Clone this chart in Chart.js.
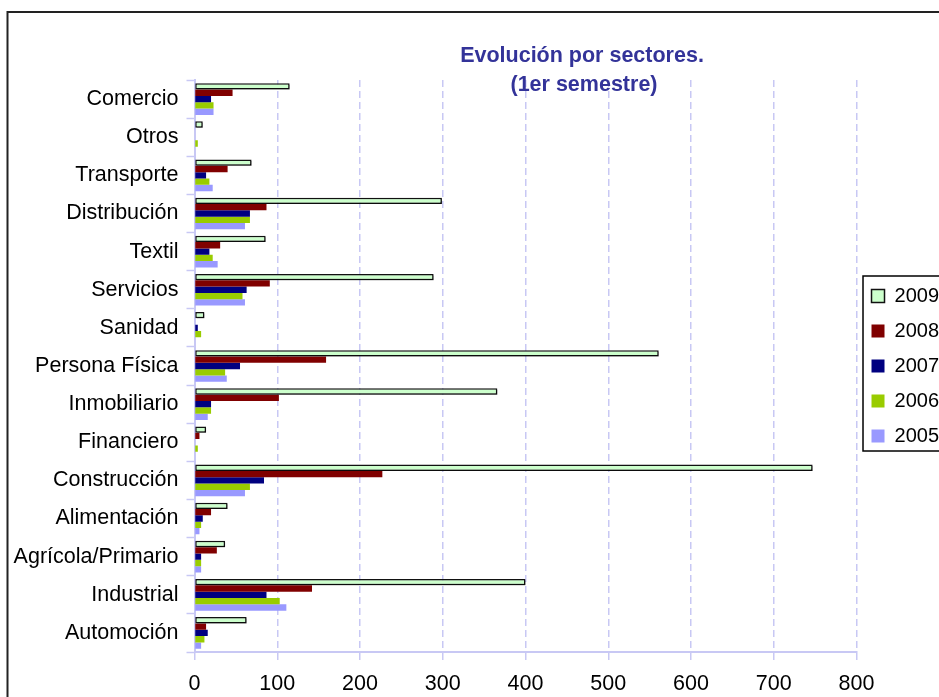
<!DOCTYPE html>
<html><head><meta charset="utf-8">
<script src="https://cdn.jsdelivr.net/npm/chart.js@4.4.0/dist/chart.umd.min.js"></script>
<style>
html,body{margin:0;padding:0;background:#fff;overflow:hidden;width:939px;height:697px;}
#wrap{position:absolute;left:0;top:0;width:949px;height:697px;}
</style></head><body>
<div id="wrap"><canvas id="c"></canvas></div>
<script>
const categories = ['Comercio','Otros','Transporte','Distribución','Textil','Servicios','Sanidad','Persona Física','Inmobiliario','Financiero','Construcción','Alimentación','Agrícola/Primario','Industrial','Automoción'];
const seriesNames = ['2009','2008','2007','2006','2005'];
const v2009 = [115, 10, 69, 299, 86, 289, 12, 561, 366, 14, 747, 40, 37, 400, 63];
const v2008 = [46, 0, 40, 87, 31, 91, 0, 159, 102, 6, 227, 20, 27, 142, 14];
const v2007 = [20, 0, 14, 67, 18, 63, 4, 55, 20, 0, 84, 10, 8, 87, 16];
const v2006 = [23, 4, 18, 67, 22, 58, 8, 37, 20, 4, 67, 8, 8, 103, 12];
const v2005 = [23, 0, 22, 61, 28, 61, 0, 39, 16, 0, 61, 6, 8, 111, 8];
const xTickValues = [0, 100, 200, 300, 400, 500, 600, 700, 800];
const titleLines = ['Evolución por sectores.', '(1er semestre)'];

const FONT = "'Liberation Sans', Arial, sans-serif";
const GRID = '#C8C8F4';

const framePlugin = {
  id: 'frame',
  beforeDraw(chart) {
    const ctx = chart.ctx;
    ctx.save();
    ctx.fillStyle = '#fff';
    ctx.fillRect(0, 0, chart.width, chart.height);
    ctx.strokeStyle = '#222';
    ctx.lineWidth = 2;
    ctx.strokeRect(7.5, 12, chart.width + 50, chart.height + 50);
    ctx.restore();
  },
  beforeDatasetDraw(chart, args) {
    if (args.index === 0) {
      const ctx = chart.ctx;
      ctx.save();
      ctx.shadowColor = 'rgba(0,0,0,0.35)';
      ctx.shadowOffsetX = 1.5;
      ctx.shadowOffsetY = 1.5;
      ctx.shadowBlur = 0;
    }
  },
  afterDatasetDraw(chart, args) {
    if (args.index === 0) chart.ctx.restore();
  },
  afterDraw(chart) {
    const ctx = chart.ctx;
    ctx.save();
    ctx.fillStyle = '#333399';
    ctx.font = "bold 21.5px " + FONT;
    ctx.textAlign = 'center';
    ctx.textBaseline = 'alphabetic';
    ctx.fillText(titleLines[0], 582, 61.5);
    ctx.fillText(titleLines[1], 584, 91);
    const lg = chart.legend;
    if (lg && lg.legendHitBoxes && lg.legendHitBoxes.length) {
      const hb = lg.legendHitBoxes;
      const first = hb[0], last = hb[hb.length - 1];
      const left = first.left - 8.5;
      const top = first.top + first.height / 2 - 20;
      const bottom = last.top + last.height / 2 + 15;
      ctx.strokeStyle = '#000';
      ctx.lineWidth = 1.5;
      ctx.strokeRect(left, top, 300, bottom - top);
    }
    ctx.restore();
  }
};

const datasets = [
  {label: seriesNames[0], data: v2009, backgroundColor: '#CCFFCC', borderColor: '#111', borderWidth: 1.5, borderSkipped: false},
  {label: seriesNames[1], data: v2008, backgroundColor: '#800000', borderWidth: 0},
  {label: seriesNames[2], data: v2007, backgroundColor: '#000080', borderWidth: 0},
  {label: seriesNames[3], data: v2006, backgroundColor: '#99CC00', borderWidth: 0},
  {label: seriesNames[4], data: v2005, backgroundColor: '#9999FF', borderWidth: 0}
];

new Chart(document.getElementById('c'), {
  type: 'bar',
  data: {labels: categories, datasets},
  plugins: [framePlugin],
  options: {
    indexAxis: 'y',
    responsive: true,
    maintainAspectRatio: false,
    animation: false,
    devicePixelRatio: 1,
    layout: {padding: {left: 8, top: 80, right: 0, bottom: 0}},
    datasets: {bar: {categoryPercentage: 0.83, barPercentage: 1.0}},
    plugins: {
      title: {display: false},
      tooltip: {enabled: false},
      legend: {
        position: 'right', align: 'center', fullSize: false,
        labels: {boxWidth: 13, boxHeight: 13, padding: 15, color: '#000', font: {family: FONT, size: 20}}
      }
    },
    scales: {
      x: {
        min: 0, max: 800,
        afterFit(s) { s.height = 45; },
        afterBuildTicks(s) { s.ticks = xTickValues.map(v => ({value: v})); },
        ticks: {stepSize: 100, padding: 11, color: '#000', font: {family: FONT, size: 21.5}, maxRotation: 0},
        grid: {
          color: (c) => (c.tick && c.tick.value === 0) ? 'rgba(0,0,0,0)' : GRID,
          lineWidth: 1.5, tickColor: GRID, tickLength: 8, tickWidth: 1.5, tickBorderDash: []
        },
        border: {color: GRID, width: 2, dash: [7, 4]}
      },
      y: {
        afterFit(s) { s.width = 186.5; },
        ticks: {padding: 8, color: '#000', font: {family: FONT, size: 21.5}, autoSkip: false},
        grid: {drawOnChartArea: false, tickLength: 8, tickColor: GRID, tickWidth: 1.5, offset: true},
        border: {color: GRID, width: 2}
      }
    }
  }
});
</script>
</body></html>
